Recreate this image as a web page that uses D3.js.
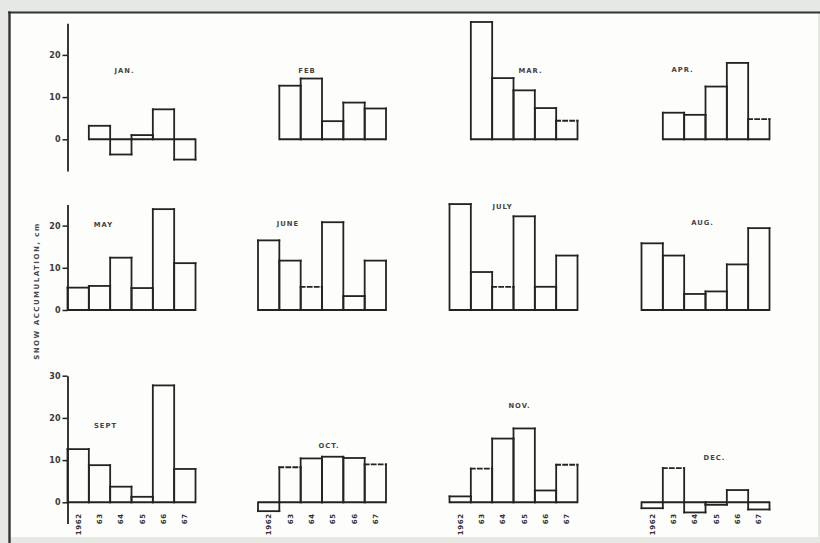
<!DOCTYPE html>
<html>
<head>
<meta charset="utf-8">
<script src="https://cdn.jsdelivr.net/npm/d3@7/dist/d3.min.js"></script>
<style>
  html, body { margin: 0; padding: 0; background: #e6e8e4; }
  svg { display: block; }
  text { font-family: "DejaVu Sans", sans-serif; }
</style>
</head>
<body>
<script>
// Monthly snow accumulation (cm), one small panel per month.
const months = ["JAN.", "FEB", "MAR.", "APR.", "MAY", "JUNE", "JULY", "AUG.", "SEPT", "OCT.", "NOV.", "DEC."];
const yearsLate = [1963, 1964, 1965, 1966, 1967];          // Jan–Apr records
const yearsFull = [1962, 1963, 1964, 1965, 1966, 1967];    // May–Dec records
const yearTickLabels = ["1962", "63", "64", "65", "66", "67"];

const snowJan  = [3.2, -3.6, 1.0, 7.1, -4.8];
const snowFeb  = [12.7, 14.4, 4.3, 8.7, 7.3];
const snowMar  = [27.8, 14.5, 11.6, 7.4, 4.4];
const snowApr  = [6.3, 5.8, 12.5, 18.1, 4.8];
const snowMay  = [5.3, 5.7, 12.4, 5.2, 23.9, 11.1];
const snowJune = [16.5, 11.7, 5.5, 20.8, 3.3, 11.7];
const snowJuly = [25.1, 9.0, 5.5, 22.2, 5.5, 12.9];
const snowAug  = [15.8, 12.9, 3.8, 4.4, 10.8, 19.4];
const snowSept = [12.6, 8.8, 3.7, 1.3, 27.7, 7.9];
const snowOct  = [-2.1, 8.3, 10.4, 10.8, 10.5, 9.0];
const snowNov  = [1.4, 8.0, 15.1, 17.5, 2.8, 8.9];
const snowDec  = [-1.4, 8.1, -2.4, -0.6, 2.9, -1.7];

// Indices of estimated values (drawn with a dashed top)
const estimatedBars = [[], [], [4], [4], [], [2], [2], [], [], [1, 5], [1, 5], [1]];

// Y-axis extents per row, and tick label values
const rowDomains = [[-7.5, 27.5], [0, 25], [-5, 30]];
const rowMajorTicks = [[0, 10, 20], [0, 10, 20], [0, 10, 20, 30]];

const monthValues = [snowJan, snowFeb, snowMar, snowApr, snowMay, snowJune,
                     snowJuly, snowAug, snowSept, snowOct, snowNov, snowDec];

// ---- layout ----
const W = 820, H = 543;
const colX = [67.5, 258, 449.5, 641.5];     // left edge of each panel
const panelW = 128;
const rowBase = [139.3, 310, 502.3];        // pixel position of the zero line
const pxPerCm = 4.22;
// month label anchor, offset from (panel left, zero line)
const labelOffset = [[57, -66], [49, -66], [81, -66], [41, -67],
                     [36, -83], [30, -84], [53, -101], [61, -85],
                     [38, -74], [71, -54], [70, -94], [73, -42]];

const ink = "#232323";

const svg = d3.select("body").append("svg").attr("width", W).attr("height", H);

// paper and frame
svg.append("rect").attr("x", 0).attr("y", 0).attr("width", W).attr("height", H).attr("fill", "#e6e8e4");
svg.append("rect").attr("x", 9).attr("y", 12).attr("width", 809).attr("height", 525).attr("fill", "#fdfdfc");
svg.append("line").attr("x1", 8).attr("x2", 820).attr("y1", 12.5).attr("y2", 12.5)
  .attr("stroke", "#333").attr("stroke-width", 2.2);
svg.append("line").attr("x1", 9.5).attr("x2", 9.5).attr("y1", 11.5).attr("y2", H)
  .attr("stroke", "#333").attr("stroke-width", 2.4);

// y scales per row
const yScales = rowDomains.map((dom, r) =>
  d3.scaleLinear().domain(dom)
    .range([rowBase[r] - dom[0] * pxPerCm, rowBase[r] - dom[1] * pxPerCm]));

// y axes, on the first column only
rowDomains.forEach((dom, r) => {
  const y = yScales[r];
  const minor = d3.range(dom[0], dom[1] + 0.01, 2.5);
  const g = svg.append("g").attr("transform", `translate(${colX[0]},0)`);
  g.call(d3.axisLeft(y).tickValues(minor).tickSize(4).tickSizeOuter(0).tickFormat(""));
  g.call(d3.axisLeft(y).tickValues(rowMajorTicks[r]).tickSize(5).tickSizeOuter(0).tickPadding(2));
  g.selectAll("path.domain").attr("stroke", ink).attr("stroke-width", 1.8);
  g.selectAll(".tick line").attr("stroke", ink).attr("stroke-width", 1.5);
  g.selectAll(".tick text").attr("fill", "#3a3a3a").attr("font-size", 8)
    .attr("font-weight", 600)
    .attr("font-family", "DejaVu Sans, sans-serif");
});

// axis title
svg.append("text")
  .attr("transform", "translate(39,291) rotate(-90)")
  .attr("text-anchor", "middle")
  .attr("font-size", 7)
  .attr("font-weight", 600)
  .attr("letter-spacing", 1.5)
  .attr("fill", "#4a4a4a")
  .text("SNOW ACCUMULATION, cm");

// panels
months.forEach((m, i) => {
  const r = Math.floor(i / 4), c = i % 4;
  const y = yScales[r];
  const vals = monthValues[i];
  const years = vals.length === 5 ? yearsLate : yearsFull;
  const x = d3.scaleBand().domain(yearsFull).range([colX[c], colX[c] + panelW]).padding(0);
  const g = svg.append("g");
  const est = estimatedBars[i];

  // zero line across the bars
  g.append("line")
    .attr("x1", x(years[0])).attr("x2", x(years[years.length - 1]) + x.bandwidth())
    .attr("y1", y(0)).attr("y2", y(0))
    .attr("stroke", ink).attr("stroke-width", 1.9);

  vals.forEach((v, j) => {
    const yr = years[j];
    const x0 = x(yr), x1 = x0 + x.bandwidth();
    const y0 = y(0), y1 = y(v);
    const seg = (ax, ay, bx, by, dashed) => g.append("line")
      .attr("x1", ax).attr("y1", ay).attr("x2", bx).attr("y2", by)
      .attr("stroke", ink).attr("stroke-width", 1.8)
      .attr("stroke-linecap", "square")
      .attr("stroke-dasharray", dashed ? "4,3" : null);
    seg(x0, y0, x0, y1, false);
    seg(x1, y0, x1, y1, false);
    seg(x0, y1, x1, y1, est.includes(j));
  });

  // month label
  g.append("text")
    .attr("x", colX[c] + labelOffset[i][0])
    .attr("y", rowBase[r] + labelOffset[i][1])
    .attr("text-anchor", "middle")
    .attr("font-size", 6.8)
    .attr("font-weight", 600)
    .attr("letter-spacing", 1)
    .attr("fill", "#444")
    .text(m);

  // year labels under the bottom row
  if (r === 2) {
    yearsFull.forEach((yr, j) => {
      g.append("text")
        .attr("transform", `translate(${x(yr) + x.bandwidth() / 2 + 2.5},${rowBase[r] + 11}) rotate(-90)`)
        .attr("text-anchor", "end")
        .attr("font-size", 7)
        .attr("font-weight", 600)
        .attr("letter-spacing", 0.6)
        .attr("fill", "#333")
        .text(yearTickLabels[j]);
    });
  }
});
</script>
</body>
</html>
